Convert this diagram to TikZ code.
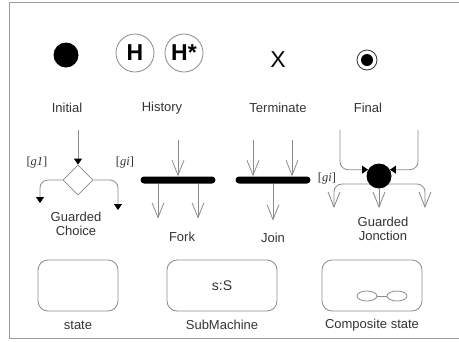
\documentclass[tikz,border=0pt]{standalone}
\usepackage{fontspec}
\setmainfont{Liberation Sans}
\newfontfamily\guardfont{Liberation Serif}
\usetikzlibrary{arrows.meta,shapes.geometric}
\definecolor{edge}{HTML}{8A8A8A}
\definecolor{ink}{HTML}{333333}
\definecolor{framegray}{HTML}{9A9A9A}

\begin{document}
\begin{tikzpicture}[x=1pt,y=-1pt,
  lbl/.style={text=ink,font=\fontsize{13}{14.5}\selectfont,align=center,inner sep=0},
  guard/.style={text=ink,font=\guardfont\fontsize{12.5}{12.5}\selectfont,inner sep=0},
  flow/.style={draw=edge,line width=0.8pt},
  openarrow/.style={flow,-{Straight Barb[length=15pt,width=12pt,line width=0.8pt]}},
  solidtip/.style={flow,-{Triangle[length=6pt,width=8pt,color=black]}},
  syncbar/.style={fill=black,rounded corners=3.5pt,minimum width=75pt,minimum height=7pt,inner sep=0},
  stbox/.style={draw=edge,rounded corners=10pt,minimum height=51pt,line width=0.8pt,inner sep=0},
  dot/.style={circle,fill=black,inner sep=0},
  hist/.style={circle,draw=edge,line width=0.8pt,minimum size=38pt,inner sep=0,
    font=\bfseries\fontsize{23}{23}\selectfont}
]
\useasboundingbox (0,0) rectangle (459,341);

% outer frame (open on the right)
\draw[framegray,line width=1pt] (459,2) -- (9,2) -- (9,338) -- (459,338);

% ---- pseudo-states ----
\node[dot,minimum size=25pt] (init) at (66,55) {};
\node[lbl] (initL) at (67,108) {Initial};

\node[hist] (shallow) at (135,53) {H};
\node[hist] (deep) at (184,53) {H*};
\node[lbl] (histL) at (162,108) {History};

\node[text=black,font=\fontsize{23}{23}\selectfont,inner sep=0] (term) at (278,60) {X};
\node[lbl] (termL) at (278,108) {Terminate};

\node[circle,draw=black!80,line width=0.8pt,minimum size=20pt,inner sep=0] (final) at (367,60) {};
\node[dot,minimum size=12pt] (finalIn) at (final) {};
\node[lbl] (finalL) at (368,108) {Final};

% ---- guarded choice ----
\node[diamond,draw=edge,line width=0.8pt,minimum width=30pt,minimum height=30pt,inner sep=0] (choice) at (78,180) {};
\coordinate (cin) at (78,130);
\coordinate (cl) at (40,203);
\coordinate (cr) at (118,210);
\draw[solidtip] (cin) -- (choice.north);
\draw[solidtip,rounded corners=8pt] (choice.west) -| (cl);
\draw[solidtip,rounded corners=8pt] (choice.east) -| (cr);
\node[guard] (g1) at (37,162) {[\textit{g1}]};
\node[guard] (gi) at (125,162) {[\textit{gi}]};
\node[lbl] (choiceL) at (76,224) {Guarded\\Choice};

% ---- fork ----
\node[syncbar] (fork) at (178,180) {};
\coordinate (fin) at (178,140);
\draw[openarrow] (fin) -- (fork.north);
\draw[openarrow] ([xshift=-20pt]fork.south) -- ++(0,35);
\draw[openarrow] ([xshift=20pt]fork.south) -- ++(0,35);
\node[lbl] (forkL) at (182,237) {Fork};

% ---- join ----
\node[syncbar] (join) at (273,180) {};
\coordinate (j1) at (253,140);
\coordinate (j2) at (292,140);
\draw[openarrow] (j1) -- (j1 |- join.north);
\draw[openarrow] (j2) -- (j2 |- join.north);
\draw[openarrow] (join.south) -- ++(0,37);
\node[lbl] (joinL) at (273,238) {Join};

% ---- guarded junction ----
\coordinate (jc) at (379,176);
\coordinate (jo1) at (334,208);
\coordinate (jo3) at (425,208);
\draw[openarrow,rounded corners=8pt] (jc) ++(0,8) -| (jo1);
\draw[openarrow,rounded corners=8pt] (jc) ++(0,8) -| (jo3);
\node[dot,minimum size=25pt] (junc) at (jc) {};
\draw[openarrow] (junc.south) -- (junc.south |- jo1);
\coordinate (jl) at (340,130);
\coordinate (jr) at (418,130);
\draw[solidtip,rounded corners=8pt] (jl) |- (junc.150);
\draw[solidtip,rounded corners=8pt] (jr) |- (junc.30);
\node[guard] (gj) at (327,178) {[\textit{gi}]};
\node[lbl] (juncL) at (383,229) {Guarded\\Jonction};

% ---- states ----
\node[stbox,minimum width=80pt] (state) at (78,285.5) {};
\node[lbl] (stateL) at (78,325) {state};

\node[stbox,minimum width=110pt,font=\fontsize{14}{14}\selectfont,text=ink] (sub) at (222,285.5) {s:S};
\node[lbl] (subL) at (222,325) {SubMachine};

\node[stbox,minimum width=100pt] (comp) at (372,285.5) {};
\node[ellipse,draw=edge,line width=0.8pt,minimum width=20pt,minimum height=10pt,inner sep=0] (e1) at (367,296) {};
\node[ellipse,draw=edge,line width=0.8pt,minimum width=20pt,minimum height=10pt,inner sep=0] (e2) at (397,296) {};
\draw[flow] (e1) -- (e2);
\node[lbl] (compL) at (372,325) {Composite state};
\end{tikzpicture}
\end{document}
